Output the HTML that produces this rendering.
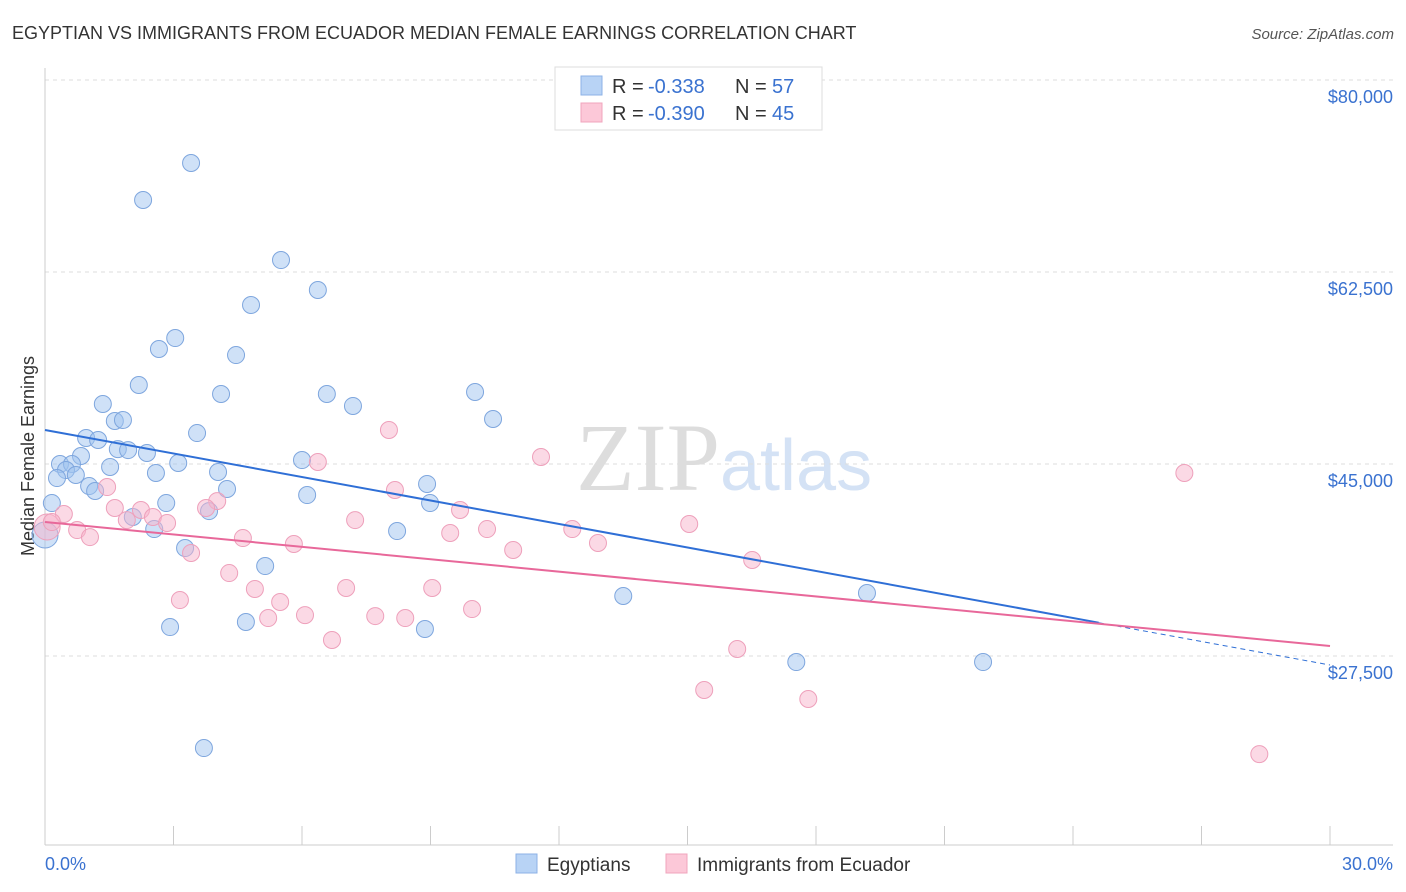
<!DOCTYPE html>
<html><head><meta charset="utf-8"><style>
body{margin:0;background:#fff;font-family:"Liberation Sans",sans-serif}
svg{display:block}
</style></head><body>
<svg id="c" width="1406" height="892">
<text x="12" y="39" font-size="18" fill="#333">EGYPTIAN VS IMMIGRANTS FROM ECUADOR MEDIAN FEMALE EARNINGS CORRELATION CHART</text>
<text x="1394" y="39" font-size="15" fill="#555" font-style="italic" text-anchor="end">Source: ZipAtlas.com</text>
<text x="720" y="490" font-size="96" fill="#ddd" text-anchor="end" font-family="Liberation Serif">ZIP</text>
<text x="720" y="490" font-size="72" fill="#d4e2f5">atlas</text>
<text transform="translate(34,456) rotate(-90)" font-size="18" fill="#333" text-anchor="middle">Median Female Earnings</text>
<g id="grid"></g><g id="pts"></g><g id="trend"></g>
<g>
<rect x="555" y="67" width="267" height="63" fill="#fff" stroke="#ddd"/>
<rect x="581" y="76" width="21" height="19" fill="#b8d3f5" stroke="#8cb2e6"/>
<rect x="581" y="103" width="21" height="19" fill="#fcc8d8" stroke="#f0a5bd"/>
<text x="612" y="93" font-size="20" fill="#333">R = <tspan x="648" fill="#3a72d0">-0.338</tspan><tspan x="735">N = </tspan><tspan x="772" fill="#3a72d0">57</tspan></text>
<text x="612" y="120" font-size="20" fill="#333">R = <tspan x="648" fill="#3a72d0">-0.390</tspan><tspan x="735">N = </tspan><tspan x="772" fill="#3a72d0">45</tspan></text>
</g>
<g>
<rect x="516" y="854" width="21" height="19" fill="#b8d3f5" stroke="#8cb2e6"/>
<text x="547" y="871" font-size="19" fill="#333">Egyptians</text>
<rect x="666" y="854" width="21" height="19" fill="#fcc8d8" stroke="#f0a5bd"/>
<text x="697" y="871" font-size="19" fill="#333">Immigrants from Ecuador</text>
</g>
<text x="45" y="870" font-size="18" fill="#3a72d0">0.0%</text>
<text x="1393" y="870" font-size="18" fill="#3a72d0" text-anchor="end">30.0%</text>
</svg>
<script>
const yTicks=[80000,62500,45000,27500];
const yTickLabels=["$80,000","$62,500","$45,000","$27,500"];
const blueX=[3.41,2.29,5.51,6.37,4.81,3.04,2.66,4.46,2.19,4.11,6.58,10.04,1.35,7.19,10.46,1.63,1.82,3.55,0.96,1.24,0.84,1.70,1.94,2.38,0.35,0.63,0.49,1.52,3.11,2.59,4.04,6.00,0.28,0.72,1.03,1.17,4.25,8.92,6.12,0.16,2.83,8.99,3.83,2.05,2.55,8.22,3.27,5.14,13.50,19.19,2.92,4.69,8.87,17.54,21.90,3.71,0.0];
const blueY=[72435,69060,63590,60860,59490,56480,55480,54930,52200,51380,51380,51560,50470,50290,49100,48920,49010,47820,47370,47190,45730,46360,46270,46000,45000,45000,44450,44730,45090,44180,44270,45360,43720,44000,42990,42540,42720,43180,42170,41440,41440,41440,40710,40170,39070,38890,37340,35700,32970,33240,30140,30600,29960,26950,26950,19110,38530];
const pinkX=[0.05,0.44,0.16,0.75,1.05,1.45,1.63,1.91,2.24,2.52,2.85,3.15,3.41,4.02,3.76,4.30,4.62,4.90,5.21,5.49,5.81,6.07,6.37,6.70,7.03,7.24,7.71,8.17,8.41,8.03,9.04,9.69,9.46,9.97,10.32,10.93,11.58,12.31,12.91,15.04,15.39,16.16,16.51,17.82,26.60,28.35];
const pinkY=[39260,40440,39710,38980,38340,42900,40990,39890,40810,40170,39620,32600,36890,41620,40990,35060,38250,33610,30960,32420,37710,31230,45180,28960,33700,39890,31140,42630,30960,48100,33700,40810,38710,31780,39070,37160,45640,39070,37800,39530,24400,28140,36250,23580,44180,18560];
const blueTrend=[48100,26680], pinkTrend=[39710,28410], blueSolidEnd=24.6;
const X=v=>45+v/30*1285, Y=v=>80-(v-80000)/17500*192;
const NS="http://www.w3.org/2000/svg";
function mk(p,t,a){const e=document.createElementNS(NS,t);for(const k in a)e.setAttribute(k,a[k]);p.appendChild(e);return e;}
const g=document.getElementById('grid');
yTicks.forEach((t,i)=>{
 const l=mk(g,'line',{x1:45,x2:1393,y1:Y(t),y2:Y(t),stroke:'#ddd','stroke-dasharray':'4,4'});
 
 
 const tx=mk(g,'text',{x:1393,y:Y(t)+23,'font-size':18,fill:'#3a72d0','text-anchor':'end'});
 tx.textContent=yTickLabels[i];
 
 
});
const ax=mk(g,'line',{x1:45,x2:45,y1:68,y2:845,stroke:'#ccc'});


const bx=mk(g,'line',{x1:45,x2:1393,y1:845,y2:845,stroke:'#ccc'});


for(let i=0;i<=10;i++){const t=mk(g,'line',{x1:X(i*3),x2:X(i*3),y1:826,y2:845,stroke:'#ccc'});
 
 }
const p=document.getElementById('pts');
blueX.forEach((x,i)=>{const big=(i===blueX.length-1);
 const c=mk(p,'circle',{cx:X(x),cy:Y(blueY[i]),r:big?13:8.5,fill:'rgba(160,195,240,0.5)',stroke:'#7ea6de','stroke-width':1});
 
 });
pinkX.forEach((x,i)=>{const big=(i===0);
 const c=mk(p,'circle',{cx:X(x),cy:Y(pinkY[i]),r:big?13:8.5,fill:'rgba(248,180,204,0.5)',stroke:'#eea0bb','stroke-width':1});
 
 });
const tr=document.getElementById('trend');
const by=x=>blueTrend[0]+(blueTrend[1]-blueTrend[0])*x/30;
const l1=mk(tr,'line',{x1:X(0),y1:Y(blueTrend[0]),x2:X(blueSolidEnd),y2:Y(by(blueSolidEnd)),stroke:'#2f6fd6','stroke-width':2});


const l2=mk(tr,'line',{x1:X(blueSolidEnd),y1:Y(by(blueSolidEnd)),x2:X(30),y2:Y(blueTrend[1]),stroke:'#2f6fd6','stroke-width':1,'stroke-dasharray':'5,4'});


const l3=mk(tr,'line',{x1:X(0),y1:Y(pinkTrend[0]),x2:X(30),y2:Y(pinkTrend[1]),stroke:'#e8689a','stroke-width':2});


</script>
</body></html>
